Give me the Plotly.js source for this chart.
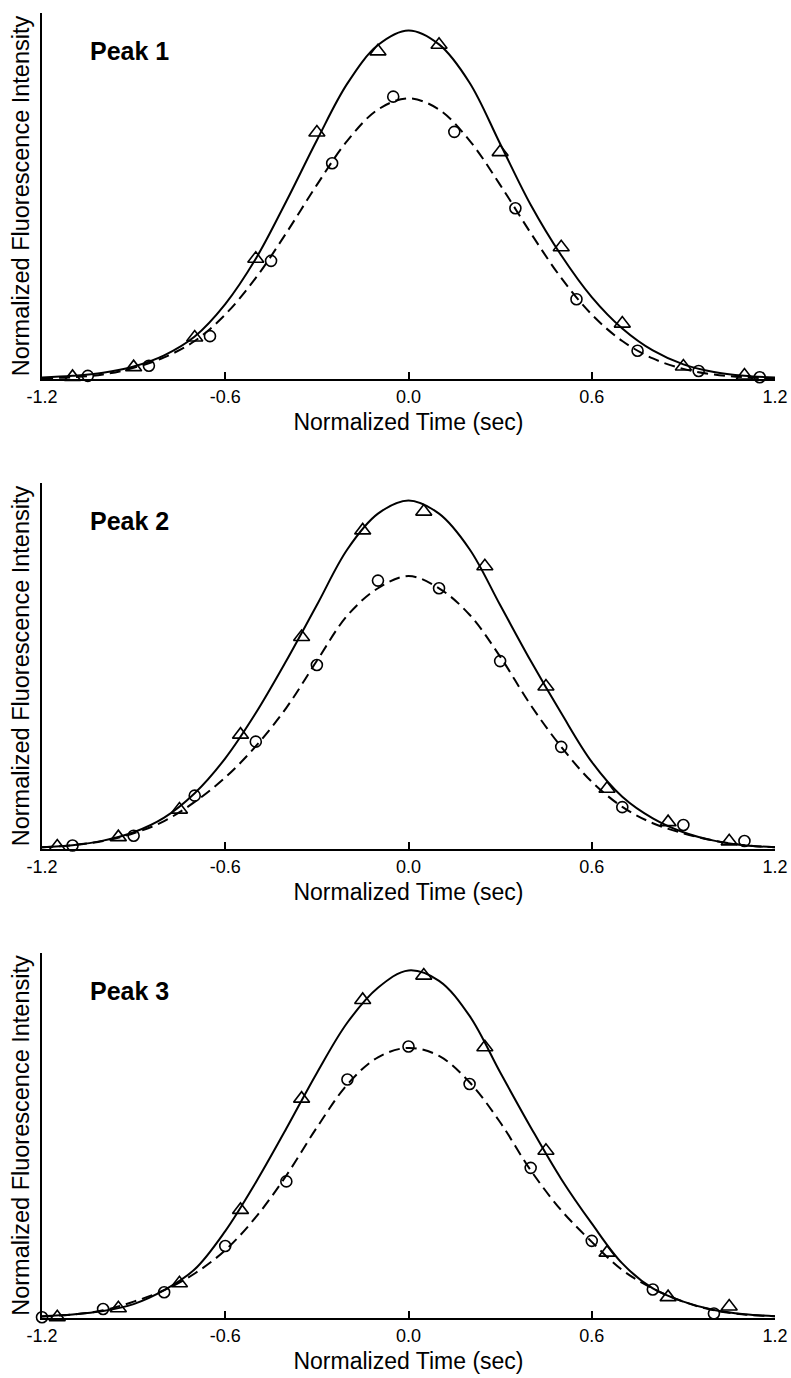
<!DOCTYPE html>
<html>
<head>
<meta charset="utf-8">
<script src="https://cdn.plot.ly/plotly-3.0.1.min.js"></script>
<style>html,body{margin:0;padding:0;background:#fff;}</style>
</head>
<body>
<div id="chart" style="width:791px;height:1378px;"></div>
<script>
// fitted curve sample positions (normalized time, sec)
const fitX = [-1.2,-1.1,-1.0,-0.9,-0.8,-0.7,-0.6,-0.5,-0.4,-0.3,-0.2,-0.1,0.0,0.1,0.2,0.3,0.4,0.5,0.6,0.7,0.8,0.9,1.0,1.1,1.2];

// Peak 1
const solid1 = [0.004,0.009,0.018,0.036,0.068,0.122,0.215,0.345,0.51,0.685,0.848,0.958,1.0,0.96,0.85,0.675,0.5,0.355,0.235,0.145,0.082,0.042,0.02,0.009,0.004];
const dashed1 = [0.002,0.005,0.013,0.032,0.062,0.109,0.185,0.29,0.419,0.557,0.684,0.773,0.805,0.773,0.684,0.557,0.419,0.29,0.185,0.109,0.059,0.029,0.013,0.005,0.002];
const tri1X = [-1.10,-0.90,-0.70,-0.50,-0.30,-0.10,0.10,0.30,0.50,0.70,0.90,1.10];
const tri1Y = [0.006,0.034,0.119,0.345,0.707,0.940,0.959,0.651,0.378,0.159,0.036,0.010];
const circ1X = [-1.05,-0.85,-0.65,-0.45,-0.25,-0.05,0.15,0.35,0.55,0.75,0.95,1.15];
const circ1Y = [0.009,0.038,0.123,0.339,0.619,0.810,0.709,0.490,0.229,0.081,0.023,0.005];

// Peak 2
const solid2 = [0.005,0.011,0.024,0.048,0.09,0.16,0.26,0.39,0.54,0.70,0.86,0.962,1.0,0.962,0.86,0.70,0.54,0.39,0.25,0.15,0.088,0.048,0.024,0.011,0.005];
const dashed2 = [0.005,0.011,0.023,0.045,0.08,0.135,0.205,0.295,0.405,0.54,0.67,0.748,0.783,0.748,0.672,0.552,0.413,0.293,0.193,0.121,0.074,0.045,0.024,0.011,0.005];
const tri2X = [-1.15,-0.95,-0.75,-0.55,-0.35,-0.15,0.05,0.25,0.45,0.65,0.85,1.05];
const tri2Y = [0.007,0.034,0.113,0.328,0.608,0.914,0.968,0.811,0.466,0.173,0.077,0.022];
const circ2X = [-1.10,-0.90,-0.70,-0.50,-0.30,-0.10,0.10,0.30,0.50,0.70,0.90,1.10];
const circ2Y = [0.010,0.038,0.153,0.308,0.528,0.770,0.748,0.539,0.293,0.120,0.069,0.023];

// Peak 3
const solid3 = [0.005,0.01,0.02,0.04,0.08,0.14,0.25,0.39,0.545,0.705,0.85,0.95,1.0,0.97,0.869,0.707,0.549,0.40,0.272,0.157,0.085,0.047,0.023,0.011,0.005];
const dashed3 = [0.004,0.01,0.022,0.047,0.08,0.128,0.195,0.29,0.41,0.548,0.672,0.75,0.777,0.754,0.678,0.563,0.425,0.31,0.219,0.138,0.085,0.047,0.022,0.01,0.005];
const tri3X = [-1.15,-0.95,-0.75,-0.55,-0.35,-0.15,0.05,0.25,0.45,0.65,0.85,1.05];
const tri3Y = [0.002,0.028,0.100,0.311,0.631,0.915,0.985,0.779,0.481,0.188,0.060,0.033];
const circ3X = [-1.20,-1.00,-0.80,-0.60,-0.40,-0.20,0.00,0.20,0.40,0.60,0.80,1.00];
const circ3Y = [0.002,0.026,0.074,0.207,0.393,0.686,0.781,0.673,0.432,0.222,0.082,0.013];

const peakLabels = ["Peak 1","Peak 2","Peak 3"];
const tickVals = [-1.2,-0.6,0.0,0.6,1.2];
const tickText = ["-1.2","-0.6","0.0","0.6","1.2"];
const xTitle = "Normalized Time (sec)";
const yTitle = "Normalized Fluorescence Intensity";

const FONT = "Liberation Sans, Arial, Helvetica, sans-serif";
const panels = [
  {solid: solid1, dashed: dashed1, tx: tri1X, ty: tri1Y, cx: circ1X, cy: circ1Y},
  {solid: solid2, dashed: dashed2, tx: tri2X, ty: tri2Y, cx: circ2X, cy: circ2Y},
  {solid: solid3, dashed: dashed3, tx: tri3X, ty: tri3Y, cx: circ3X, cy: circ3Y}
];

const traces = [];
panels.forEach((p, i) => {
  const xa = i === 0 ? 'x' : 'x' + (i + 1);
  const ya = i === 0 ? 'y' : 'y' + (i + 1);
  traces.push({x: fitX, y: p.solid, xaxis: xa, yaxis: ya, mode: 'lines', type: 'scatter',
    line: {color: '#000', width: 2, shape: 'spline', smoothing: 1}, hoverinfo: 'skip', cliponaxis: false});
  traces.push({x: fitX, y: p.dashed, xaxis: xa, yaxis: ya, mode: 'lines', type: 'scatter',
    line: {color: '#000', width: 2, dash: '11px,6px', shape: 'spline', smoothing: 1}, hoverinfo: 'skip', cliponaxis: false});
  traces.push({x: p.tx, y: p.ty, xaxis: xa, yaxis: ya, mode: 'markers', type: 'scatter', cliponaxis: false,
    marker: {symbol: 'triangle-up-open', size: 14, color: '#000', line: {color: '#000', width: 1.6}}});
  traces.push({x: p.cx, y: p.cy, xaxis: xa, yaxis: ya, mode: 'markers', type: 'scatter', cliponaxis: false,
    marker: {symbol: 'circle-open', size: 11, color: '#000', line: {color: '#000', width: 1.6}}});
});

const H = 1378, T = 13, B = 60;
const plotH = H - T - B;
const panelTops = [13, 483, 953];
const panelH = 366;

const layout = {
  width: 791, height: 1378,
  margin: {l: 42, r: 16, t: T, b: B},
  paper_bgcolor: '#fff', plot_bgcolor: '#fff',
  showlegend: false,
  font: {family: FONT, color: '#000'},
  annotations: []
};

panels.forEach((p, i) => {
  const sfx = i === 0 ? '' : String(i + 1);
  const top = panelTops[i], bot = top + panelH;
  const d0 = (H - B - bot) / plotH, d1 = (H - B - top) / plotH;
  layout['xaxis' + sfx] = {
    anchor: 'y' + sfx, domain: [0, 1], range: [-1.2, 1.2],
    showline: true, linewidth: 2, linecolor: '#000', mirror: false,
    ticks: 'inside', ticklen: 7, tickwidth: 2, tickcolor: '#000',
    tickvals: tickVals, ticktext: tickText, tickfont: {size: 18, family: FONT},
    showgrid: false, zeroline: false,
    title: {text: xTitle, font: {size: 23, family: FONT}, standoff: 8}
  };
  layout['yaxis' + sfx] = {
    anchor: 'x' + sfx, domain: [d0, d1], range: [0, 1.05],
    showline: true, linewidth: 2, linecolor: '#000',
    ticks: '', showticklabels: false, showgrid: false, zeroline: false,
    title: {text: yTitle, font: {size: 23.5, family: FONT}, standoff: 4}
  };
  layout.annotations.push({
    text: '<b>' + peakLabels[i] + '</b>', xref: 'x' + sfx, yref: 'y' + sfx,
    x: -1.05, y: 0.94, xanchor: 'left', yanchor: 'middle', showarrow: false,
    font: {size: 25, family: FONT, color: '#000'}
  });
});

Plotly.newPlot('chart', traces, layout, {staticPlot: true, displayModeBar: false});
</script>
</body>
</html>
